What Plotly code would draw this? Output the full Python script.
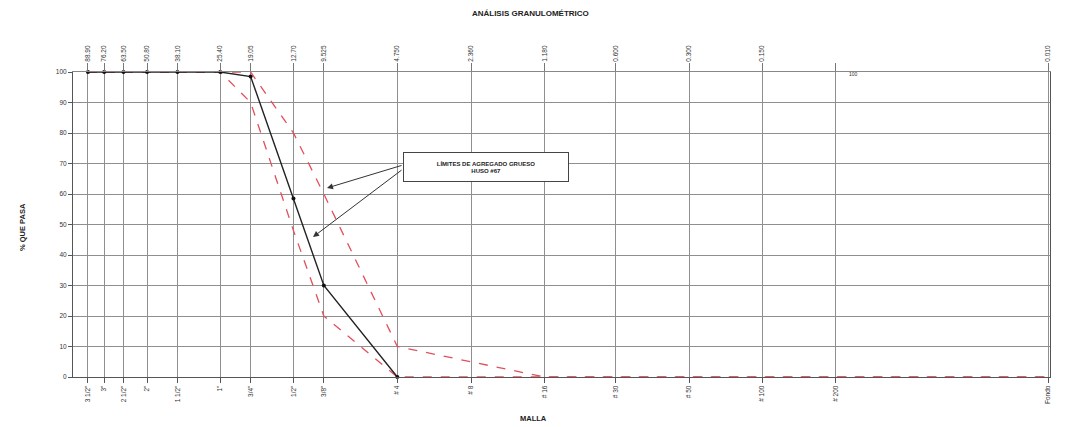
import plotly.graph_objects as go

# ---- data ----
mallas = ['3 1/2"', '3"', '2 1/2"', '2"', '1 1/2"', '1"', '3/4"', '1/2"', '3/8"',
          '# 4', '# 8', '# 16', '# 30', '# 50', '# 100', '# 200', 'Fondo']
aberturas = [88.9, 76.2, 63.5, 50.8, 38.1, 25.4, 19.05, 12.7, 9.525,
             4.75, 2.36, 1.18, 0.6, 0.3, 0.15, 0.075, 0.010]
aberturas_txt = ['88.90', '76.20', '63.50', '50.80', '38.10', '25.40', '19.05', '12.70', '9.525',
                 '4.750', '2.360', '1.180', '0.600', '0.300', '0.150', '', '0.010']

muestra_x = [88.9, 76.2, 63.5, 50.8, 38.1, 25.4, 19.05, 12.7, 9.525, 4.75]
muestra_pasa = [100, 100, 100, 100, 100, 100, 98.5, 58.5, 30, 0]

lim_sup = [100, 100, 100, 100, 100, 100, 100, 80, 60, 10, 5, 0, 0, 0, 0, 0, 0]
lim_inf = [100, 100, 100, 100, 100, 100, 90, 48, 20, 0, 0, 0, 0, 0, 0, 0, 0]

RED = '#e0505a'
FONT = 'Liberation Sans, Arial, sans-serif'

fig = go.Figure()
fig.add_trace(go.Scatter(x=aberturas, y=lim_inf, mode='lines',
                         line=dict(color=RED, width=1.3, dash='dash'), cliponaxis=False))
fig.add_trace(go.Scatter(x=aberturas, y=lim_sup, mode='lines',
                         line=dict(color=RED, width=1.3, dash='dash'), cliponaxis=False))
fig.add_trace(go.Scatter(x=muestra_x, y=muestra_pasa, mode='lines+markers',
                         line=dict(color='#222222', width=1.4),
                         marker=dict(color='#111111', size=4), cliponaxis=False))
# invisible trace to anchor the top axis
fig.add_trace(go.Scatter(x=aberturas, y=lim_sup, xaxis='x2', mode='lines',
                         line=dict(color='rgba(0,0,0,0)'), hoverinfo='skip'))

xr = [2.0103, -2.007]
fig.update_layout(
    width=1065, height=427,
    margin=dict(l=73, r=15, t=72, b=50),
    paper_bgcolor='white', plot_bgcolor='white',
    showlegend=False,
    font=dict(family=FONT, color='#333333'),
    xaxis=dict(type='log', range=xr, tickmode='array', tickvals=aberturas, ticktext=mallas,
               tickangle=-90, tickfont=dict(size=6.5, color='#333'),
               showgrid=True, gridcolor='#8f8f8f', gridwidth=0.8,
               showline=True, linecolor='#555', linewidth=1,
               ticks='outside', ticklen=5, tickcolor='#555', zeroline=False),
    xaxis2=dict(type='log', range=xr, overlaying='x', side='top', tickmode='array',
                tickvals=aberturas, ticktext=aberturas_txt, tickangle=-90,
                tickfont=dict(size=6.5, color='#333'), showgrid=False,
                showline=True, linecolor='#888', linewidth=1,
                ticks='outside', ticklen=8, tickcolor='#777'),
    yaxis=dict(range=[0, 100], tickmode='linear', dtick=10, tick0=0,
               tickfont=dict(size=6.5, color='#333'),
               showgrid=True, gridcolor='#8f8f8f', gridwidth=0.8,
               showline=True, linecolor='#555', linewidth=1, mirror=True,
               ticks='outside', ticklen=4, tickcolor='#555', zeroline=False),
    title=dict(text='<b>ANÁLISIS GRANULOMÉTRICO</b>', x=0.498, xanchor='center',
               y=1 - 13 / 427, yanchor='middle', font=dict(size=8, color='#222')),
)

annotations = [
    dict(text='<b>% QUE PASA</b>', xref='paper', yref='paper',
         x=(22 - 73) / 977, y=(377 - 227) / 305, textangle=-90, showarrow=False,
         font=dict(size=7.5, color='#222'), xanchor='center', yanchor='middle'),
    dict(text='<b>MALLA</b>', xref='paper', yref='paper',
         x=(533 - 73) / 977, y=(377 - 418) / 305, showarrow=False,
         font=dict(size=7.5, color='#222'), xanchor='center', yanchor='middle'),
    dict(text='<b>LÍMITES DE AGREGADO GRUESO<br>HUSO #67</b>', xref='paper', yref='paper',
         x=(486 - 73) / 977, y=(377 - 167) / 305, showarrow=False,
         font=dict(size=6, color='#222'), xanchor='center', yanchor='middle',
         bordercolor='#444', borderwidth=1, borderpad=3, bgcolor='white',
         width=158, height=22),
    dict(text='', xref='paper', yref='paper', x=(327 - 73) / 977, y=(377 - 188) / 305,
         ax=76, ay=-23, showarrow=True, arrowhead=2, arrowsize=1.2, arrowwidth=1,
         arrowcolor='#333'),
    dict(text='', xref='paper', yref='paper', x=(313 - 73) / 977, y=(377 - 237) / 305,
         ax=90, ay=-68, showarrow=True, arrowhead=2, arrowsize=1.2, arrowwidth=1,
         arrowcolor='#333'),
    dict(text='100', xref='paper', yref='paper', x=(853 - 73) / 977, y=(377 - 74) / 305,
         showarrow=False, font=dict(size=5, color='#333'), xanchor='center', yanchor='middle'),
]
fig.update_layout(annotations=annotations)

fig.write_html('out.html')
